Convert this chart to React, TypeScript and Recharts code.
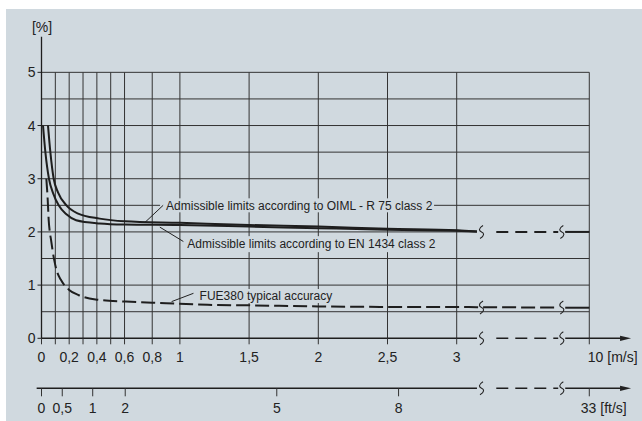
import React from 'react';
import { LineChart, Line, XAxis, YAxis, ReferenceLine, ReferenceDot } from 'recharts';

// ---------- data ----------
const oimlSpeed = [0.047, 0.064, 0.088, 0.12, 0.18, 0.26, 0.42, 0.6, 1.0, 1.5, 2.0, 2.5, 3.0, 4.07];
const oimlError = [4.0, 3.5, 3.0, 2.74, 2.5, 2.35, 2.25, 2.2, 2.17, 2.13, 2.1, 2.06, 2.03, 2.01];

const enSpeed = [0.011, 0.028, 0.054, 0.085, 0.124, 0.18, 0.25, 0.42, 0.6, 1.0, 1.5, 2.0, 2.5, 3.0, 4.07];
const enError = [4.0, 3.5, 3.0, 2.72, 2.5, 2.33, 2.22, 2.16, 2.14, 2.13, 2.1, 2.07, 2.04, 2.02, 2.01];

const fueSpeed = [0.035, 0.045, 0.052, 0.06, 0.069, 0.08, 0.092, 0.11, 0.14, 0.2, 0.27, 0.39, 0.61, 0.9, 1.2, 1.5, 2.0, 2.5, 3.0, 4.07, 8.36];
const fueError = [3.0, 2.6, 2.22, 2.0, 1.85, 1.65, 1.47, 1.27, 1.1, 0.91, 0.81, 0.73, 0.69, 0.66, 0.63, 0.62, 0.6, 0.59, 0.59, 0.585, 0.58];

const limitTailError = 2.0;
const fueTailError = 0.575;
const tailSpeed = [8.73, 10];
const bridgeSpeed = [5.09, 8.36];
const breakSpeed = [4.31, 8.55];

const msTicks = [0, 0.1, 0.2, 0.3, 0.4, 0.5, 0.6, 0.8, 1, 1.5, 2, 2.5, 3, 10];
const msTickLabels = ['0', '', '0,2', '', '0,4', '', '0,6', '0,8', '1', '1,5', '2', '2,5', '3', '10 [m/s]'];
const ftTickLabels = ['0', '0,5', '1', '2', '5', '8', '33 [ft/s]'];
const ftTickSpeed = [0, 0.15, 0.37, 0.605, 1.7, 2.58, 10];
const pctTicks = [0, 1, 2, 3, 4, 5];
const gridPct = [0.5, 1, 1.5, 2, 2.5, 3, 3.5, 4, 4.5, 5];

const notes = [
  { text: 'Admissible limits according to OIML - R 75 class 2', x: 0.9, y: 2.5, from: { x: 0.748, y: 2.18 }, to: { x: 0.879, y: 2.5 } },
  { text: 'Admissible limits according to EN 1434 class 2', x: 1.054, y: 1.77, from: { x: 0.855, y: 2.09 }, to: { x: 1.025, y: 1.82 } },
  { text: 'FUE380 typical accuracy', x: 1.142, y: 0.795, from: { x: 0.94, y: 0.69 }, to: { x: 1.098, y: 0.846 } },
];

// ---------- layout / style ----------
const BG = '#d0d9df';
const INK = '#1e1e1e';
const GRID = '#333';
const FONT = '"Liberation Sans", Arial, sans-serif';
const noteBox = [
  { padL: 6, w: 274, h: 14 },
  { padL: 3, w: 253, h: 16 },
  { padL: 3, w: 138, h: 14 },
];
const X_MAX = 4.27;
const AXIS_END = 4.26;
const FT_AXIS_Y = -0.94;
const Y_MAX = 5.67;

// broken m/s axis: linear up to 3 m/s, compressed from 3 to 10 m/s
const pos = (v: number) => (v <= 3 ? v : 3 + (v - 3) * (0.958 / 7));

const toPts = (sp: number[], er: number[]) => sp.map((s, i) => ({ x: pos(s), y: er[i] }));
const oimlData = toPts(oimlSpeed, oimlError);
const enData = toPts(enSpeed, enError);
const fueData = toPts(fueSpeed, fueError);
const limitBridge = bridgeSpeed.map((s) => ({ x: pos(s), y: limitTailError }));
const limitTail = tailSpeed.map((s) => ({ x: pos(s), y: limitTailError }));
const fueTail = tailSpeed.map((s) => ({ x: pos(s), y: fueTailError }));

const MsTick = (props: any) => {
  const { x, y, index } = props;
  const label = msTickLabels[index];
  if (!label) return null;
  const last = index === msTickLabels.length - 1;
  return (
    <text x={last ? x - 1.5 : x} y={y} dy="0.71em" textAnchor={last ? 'start' : 'middle'} fontSize={14} fontFamily={FONT} fill="#222">
      {label}
    </text>
  );
};

const Squiggle = (p: any) => {
  const { cx, cy } = p;
  return (
    <path
      d={`M ${cx + 1.5} ${cy - 6.5} C ${cx - 3.5} ${cy - 3.5}, ${cx - 2.5} ${cy - 1}, ${cx} ${cy} S ${cx + 3.5} ${cy + 3.5}, ${cx - 1.5} ${cy + 6.5}`}
      fill="none"
      stroke="#222"
      strokeWidth={1.1}
    />
  );
};

const Arrow = (p: any) => {
  const { cx, cy } = p;
  return <polygon points={`${cx},${cy} ${cx - 11},${cy - 2.6} ${cx - 11},${cy + 2.6}`} fill="#222" />;
};

export default function App() {
  const axisLevels = [0, FT_AXIS_Y];
  const breakLevels = [limitTailError, 0.58, 0, FT_AXIS_Y];
  return (
    <div style={{ position: 'absolute', left: 0, top: 0, width: 642, height: 421, background: '#fff', overflow: 'hidden' }}>
      <div style={{ position: 'absolute', left: 6, top: 9, width: 636, height: 412, background: BG }} />
      <div style={{ position: 'absolute', left: 0, top: 0 }}>
        <LineChart width={642} height={421} margin={{ top: 36.7, right: 642 - (41.5 + X_MAX * 138.4), bottom: 0, left: 0 }}>
          <XAxis
            xAxisId={0}
            type="number"
            dataKey="x"
            domain={[0, X_MAX]}
            ticks={msTicks.map(pos)}
            interval={0}
            height={82.7}
            axisLine={false}
            tickLine={{ stroke: GRID, strokeWidth: 1 }}
            tickSize={6}
            tickMargin={8}
            tick={<MsTick />}
          />
          <YAxis
            type="number"
            domain={[0, Y_MAX]}
            ticks={pctTicks}
            interval={0}
            width={41.5}
            axisLine={{ stroke: INK, strokeWidth: 1.3 }}
            tickLine={{ stroke: INK, strokeWidth: 1 }}
            tickSize={4}
            tickMargin={2}
            tick={{ fill: '#222', fontSize: 14, fontFamily: FONT }}
          />

          {/* grid */}
          {gridPct.map((p) =>
            p === limitTailError ? (
              [
                <ReferenceLine key={`g${p}a`} segment={[{ x: 0, y: p }, { x: pos(4.07), y: p }]} stroke={GRID} strokeWidth={1} zIndex={-50} />,
                <ReferenceLine key={`g${p}b`} segment={[{ x: pos(tailSpeed[0]), y: p }, { x: pos(10), y: p }]} stroke={GRID} strokeWidth={1} zIndex={-50} />,
              ]
            ) : (
              <ReferenceLine key={`g${p}`} segment={[{ x: 0, y: p }, { x: pos(10), y: p }]} stroke={GRID} strokeWidth={1} zIndex={-50} />
            )
          )}
          {msTicks
            .filter((t) => t > 0)
            .map((t) => (
              <ReferenceLine key={`v${t}`} segment={[{ x: pos(t), y: 0 }, { x: pos(t), y: 5 }]} stroke={GRID} strokeWidth={1} zIndex={-50} />
            ))}

          {/* annotation boxes & texts */}
          {notes.map((n, i) => (
            <ReferenceDot
              key={`n${i}`}
              x={pos(n.x)}
              y={n.y}
              ifOverflow="visible"
              zIndex={50}
              shape={(p: any) => (
                <g>
                  <rect x={p.cx - noteBox[i].padL} y={p.cy - noteBox[i].h / 2} width={noteBox[i].w} height={noteBox[i].h} fill={BG} />
                  <text x={p.cx} y={p.cy} dy="0.36em" fontSize={12} fontFamily={FONT} fill="#222">
                    {n.text}
                  </text>
                </g>
              )}
            />
          ))}
          {notes.map((n, i) => (
            <ReferenceLine
              key={`l${i}`}
              segment={[{ x: pos(n.from.x), y: n.from.y }, { x: pos(n.to.x), y: n.to.y }]}
              stroke="#222"
              strokeWidth={1}
              zIndex={60}
            />
          ))}

          {/* axis lines with break */}
          {axisLevels.map((lv, i) => [
            <ReferenceLine key={`a${i}s`} segment={[{ x: i === 0 ? 0 : -0.035, y: lv }, { x: pos(4.07), y: lv }]} stroke={INK} strokeWidth={1.4} ifOverflow="visible" zIndex={70} />,
            <ReferenceLine key={`a${i}d`} segment={[{ x: pos(bridgeSpeed[0]), y: lv }, { x: pos(bridgeSpeed[1]), y: lv }]} stroke={INK} strokeWidth={1.4} strokeDasharray="12 7" ifOverflow="visible" zIndex={70} />,
            <ReferenceLine key={`a${i}t`} segment={[{ x: pos(tailSpeed[0]), y: lv }, { x: AXIS_END - 0.05, y: lv }]} stroke={INK} strokeWidth={1.4} ifOverflow="visible" zIndex={70} />,
            <ReferenceDot key={`a${i}r`} x={AXIS_END} y={lv} ifOverflow="visible" shape={<Arrow />} zIndex={70} />,
          ])}

          {/* ft/s scale: ticks and labels */}
          {ftTickSpeed.map((s, i) => {
            const last = i === ftTickSpeed.length - 1;
            return (
              <ReferenceDot
                key={`ft${i}`}
                x={pos(s)}
                y={FT_AXIS_Y}
                ifOverflow="visible"
                zIndex={70}
                shape={(p: any) => (
                  <g>
                    <line x1={p.cx} y1={p.cy} x2={p.cx} y2={p.cy + 8} stroke={GRID} strokeWidth={1} />
                    <text
                      x={last ? p.cx - 8.5 : p.cx}
                      y={p.cy + 15}
                      dy="0.71em"
                      textAnchor={last ? 'start' : 'middle'}
                      fontSize={14}
                      fontFamily={FONT}
                      fill="#222"
                    >
                      {ftTickLabels[i]}
                    </text>
                  </g>
                )}
              />
            );
          })}

          {/* curves */}
          <Line data={oimlData} dataKey="y" type="monotone" stroke={INK} strokeWidth={2} dot={false} isAnimationActive={false} />
          <Line data={enData} dataKey="y" type="monotone" stroke={INK} strokeWidth={2} dot={false} isAnimationActive={false} />
          <Line data={limitBridge} dataKey="y" type="linear" stroke={INK} strokeWidth={2} strokeDasharray="12 7" dot={false} isAnimationActive={false} />
          <Line data={limitTail} dataKey="y" type="linear" stroke={INK} strokeWidth={2} dot={false} isAnimationActive={false} />
          <Line data={fueData} dataKey="y" type="monotone" stroke={INK} strokeWidth={2} strokeDasharray="14 5" dot={false} isAnimationActive={false} />
          <Line data={fueTail} dataKey="y" type="linear" stroke={INK} strokeWidth={2} dot={false} isAnimationActive={false} />

          {/* break marks */}
          {breakLevels.map((lv, i) =>
            breakSpeed.map((s, j) => (
              <ReferenceDot key={`b${i}-${j}`} x={pos(s)} y={lv} ifOverflow="visible" shape={<Squiggle />} zIndex={800} />
            ))
          )}

          {/* unit label */}
          <ReferenceDot
            x={0}
            y={Y_MAX}
            ifOverflow="visible"
            zIndex={800}
            shape={(p: any) => (
              <text x={p.cx + 0.5} y={p.cy - 5} textAnchor="middle" fontSize={14} fontFamily={FONT} fill="#222">
                [%]
              </text>
            )}
          />
        </LineChart>
      </div>
    </div>
  );
}
